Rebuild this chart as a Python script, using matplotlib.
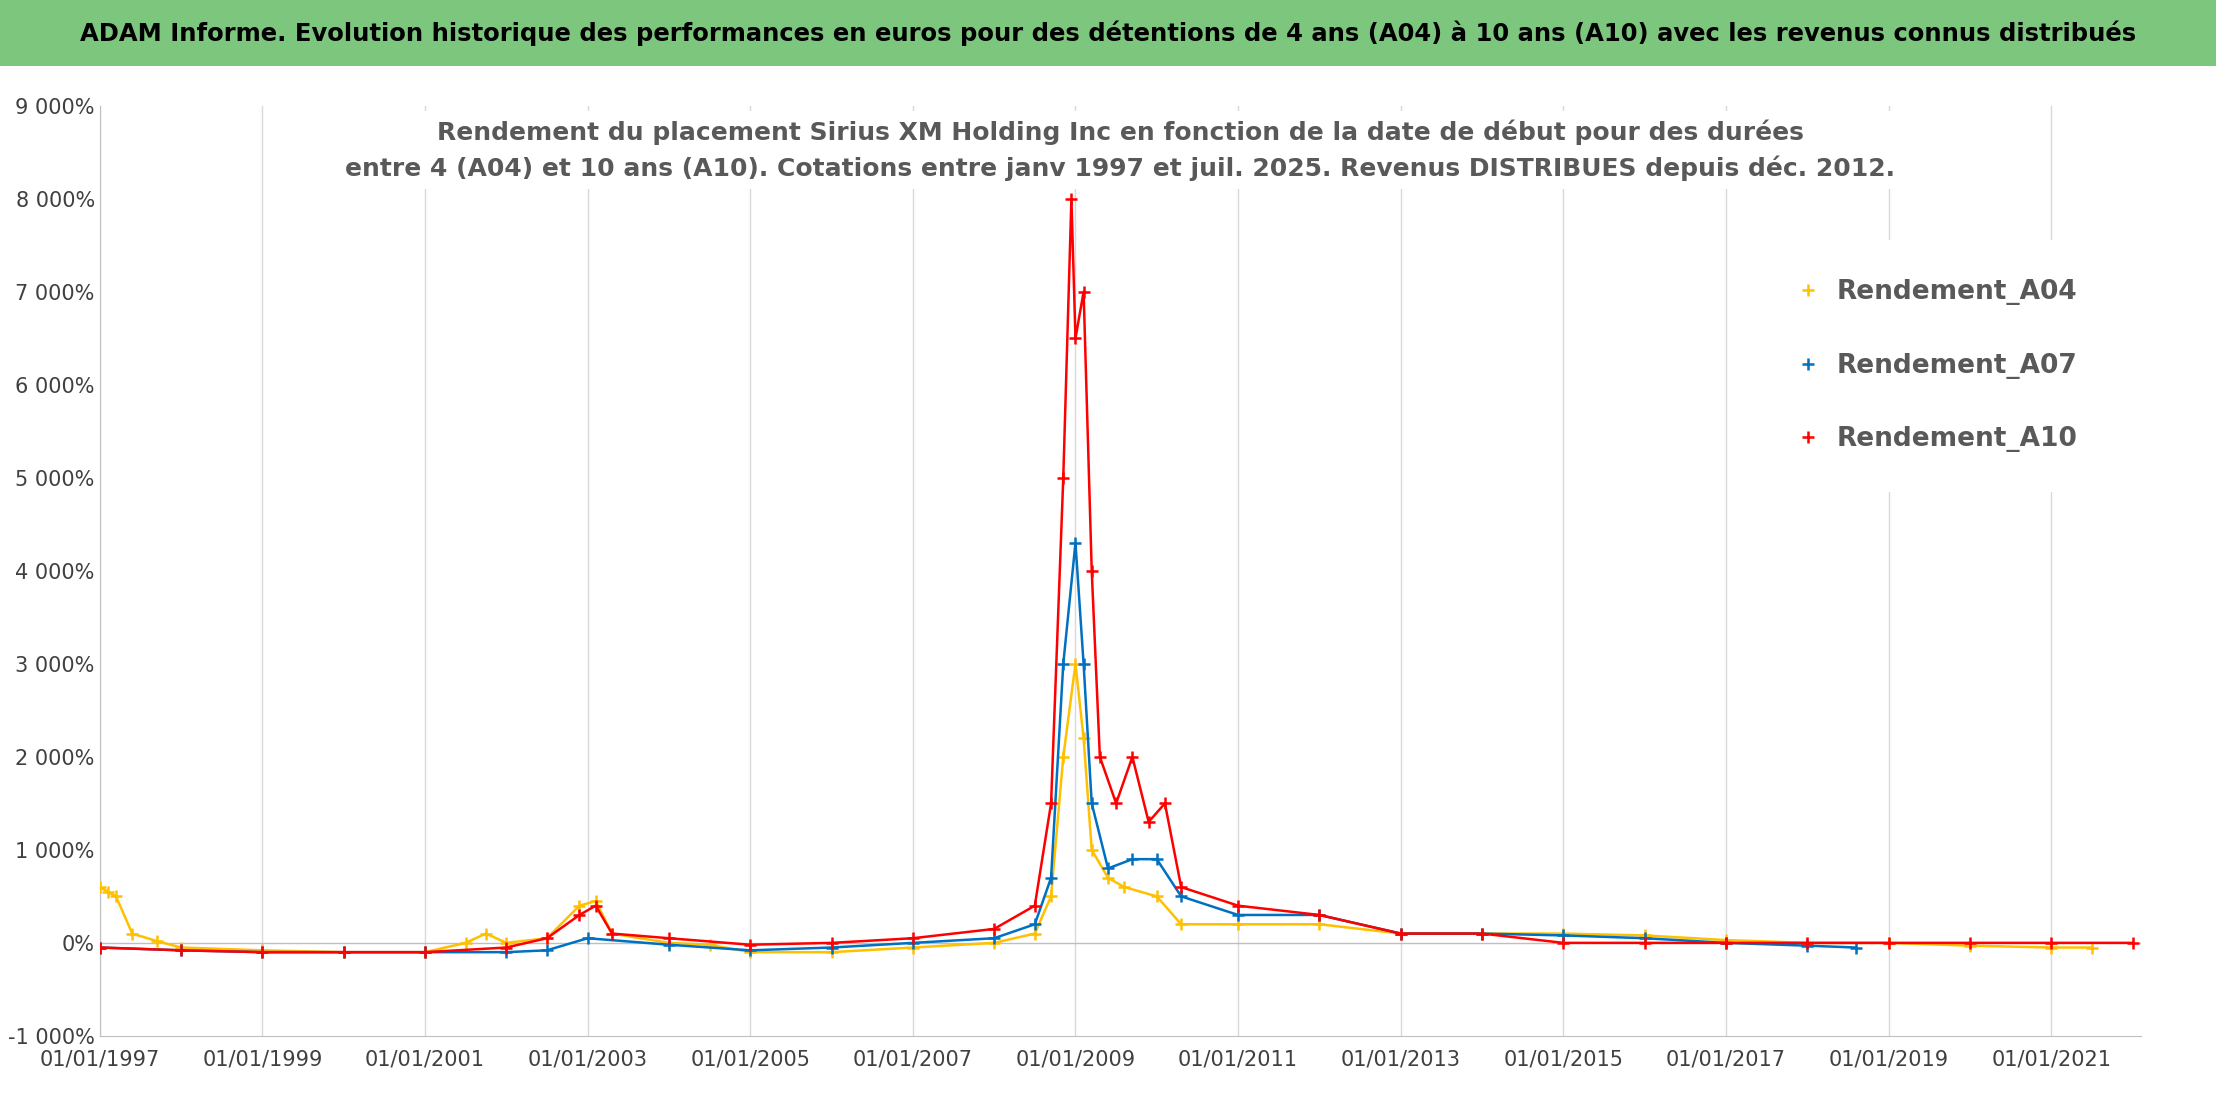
import matplotlib
matplotlib.use("Agg")
import matplotlib.pyplot as plt
import matplotlib.ticker as mticker

plt.rcParams['font.family'] = ['DejaVu Sans']

# années décimales de la date de début, rendement en %
x_a04 = [1997.0, 1997.1, 1997.2, 1997.4, 1997.7, 1998, 1999, 2000, 2001, 2001.5, 2001.75, 2002,
         2002.5, 2002.9, 2003.1, 2003.3, 2004, 2004.5, 2005, 2006, 2007, 2008, 2008.5, 2008.7,
         2008.85, 2009.0, 2009.1, 2009.2, 2009.4, 2009.6, 2010, 2010.3, 2011, 2012, 2013, 2014,
         2015, 2016, 2017, 2018, 2019, 2020, 2021, 2021.5]
y_a04 = [600, 550, 500, 100, 20, -50, -80, -100, -100, 0, 100, 0,
         50, 400, 450, 100, 0, -20, -100, -100, -50, 0, 100, 500,
         2000, 3000, 2200, 1000, 700, 600, 500, 200, 200, 200, 100, 100,
         100, 80, 30, 0, 0, -30, -50, -50]
x_a07 = [1997.0, 1998, 1999, 2000, 2001, 2002, 2002.5, 2003, 2004, 2005, 2006, 2007, 2008,
         2008.5, 2008.7, 2008.85, 2009.0, 2009.1, 2009.2, 2009.4, 2009.7, 2010.0, 2010.3,
         2011, 2012, 2013, 2014, 2015, 2016, 2017, 2018, 2018.6]
y_a07 = [-50, -80, -100, -100, -100, -100, -80, 50, -20, -80, -50, 0, 50,
         200, 700, 3000, 4300, 3000, 1500, 800, 900, 900, 500,
         300, 300, 100, 100, 80, 50, 0, -30, -50]
x_a10 = [1997.0, 1998, 1999, 2000, 2001, 2002, 2002.5, 2002.9, 2003.1, 2003.3, 2004, 2005,
         2006, 2007, 2008, 2008.5, 2008.7, 2008.85, 2008.95, 2009.0, 2009.1, 2009.2, 2009.3,
         2009.5, 2009.7, 2009.9, 2010.1, 2010.3, 2011, 2012, 2013, 2014, 2015, 2016, 2017,
         2018, 2019, 2020, 2021, 2022]
y_a10 = [-50, -80, -100, -100, -100, -50, 50, 300, 400, 100, 50, -20,
         0, 50, 150, 400, 1500, 5000, 8000, 6500, 7000, 4000, 2000,
         1500, 2000, 1300, 1500, 600, 400, 300, 100, 100, 0, 0, 0,
         0, 0, 0, 0, 0]

tick_years = list(range(1997, 2022, 2))
tick_labels = [f"01/01/{y}" for y in tick_years]

fig = plt.figure(figsize=(22.16, 11.02), dpi=100)
fig.patch.set_facecolor("white")
fig.patches.append(plt.Rectangle((0, 0.94), 1, 0.06, transform=fig.transFigure,
                                 fc="#7DC67D", ec="none", zorder=0))
fig.text(0.5, 0.97, "ADAM Informe. Evolution historique des performances en euros pour des détentions "
         "de 4 ans (A04) à 10 ans (A10) avec les revenus connus distribués",
         ha="center", va="center", fontsize=17.5, fontweight="bold")

ax = fig.add_axes([0.045, 0.06, 0.921, 0.844])
for xs, ys, c, lab in [(x_a04, y_a04, "#FFC000", "Rendement_A04"),
                       (x_a07, y_a07, "#0070C0", "Rendement_A07"),
                       (x_a10, y_a10, "#FF0000", "Rendement_A10")]:
    ax.plot(xs, ys, ls="-", lw=1.8, color=c, marker="+", ms=8, mew=1.8, label=lab, zorder=3)

ax.set_xlim(1997, 2022.1)
ax.set_ylim(-1000, 9000)
ax.set_xticks(tick_years)
ax.set_xticklabels(tick_labels, fontsize=15, color="#404040")
ax.yaxis.set_major_locator(mticker.MultipleLocator(1000))
ax.yaxis.set_major_formatter(mticker.FuncFormatter(
    lambda v, p: f"{int(v):,}%".replace(",", " ")))
ax.tick_params(axis="y", labelsize=15, labelcolor="#404040", length=0)
ax.tick_params(axis="x", length=0, pad=10)
ax.grid(axis="x", color="#D9D9D9", lw=1)
ax.axhline(0, color="#BFBFBF", lw=1)
for s in ["top", "right"]:
    ax.spines[s].set_visible(False)
for s in ["left", "bottom"]:
    ax.spines[s].set_color("#BFBFBF")

ax.text(0.5, 0.985, "Rendement du placement Sirius XM Holding Inc en fonction de la date de début pour des durées\n"
        "entre 4 (A04) et 10 ans (A10). Cotations entre janv 1997 et juil. 2025. Revenus DISTRIBUES depuis déc. 2012.",
        transform=ax.transAxes, ha="center", va="top", fontsize=18, color="#595959",
        fontweight="bold", linespacing=1.5, zorder=2,
        bbox=dict(fc="white", ec="none", pad=6))

leg = ax.legend(loc="upper right", bbox_to_anchor=(0.995, 0.87), frameon=True, framealpha=1,
                labelspacing=1.8, borderpad=1.5, handlelength=0.6, prop={"weight": "bold", "size": 19})
leg.get_frame().set_edgecolor("white")
leg.get_frame().set_linewidth(0)
for h in leg.get_lines():
    h.set_linestyle("none")
for t in leg.get_texts():
    t.set_color("#595959")

fig.savefig("out.png", dpi=100)
